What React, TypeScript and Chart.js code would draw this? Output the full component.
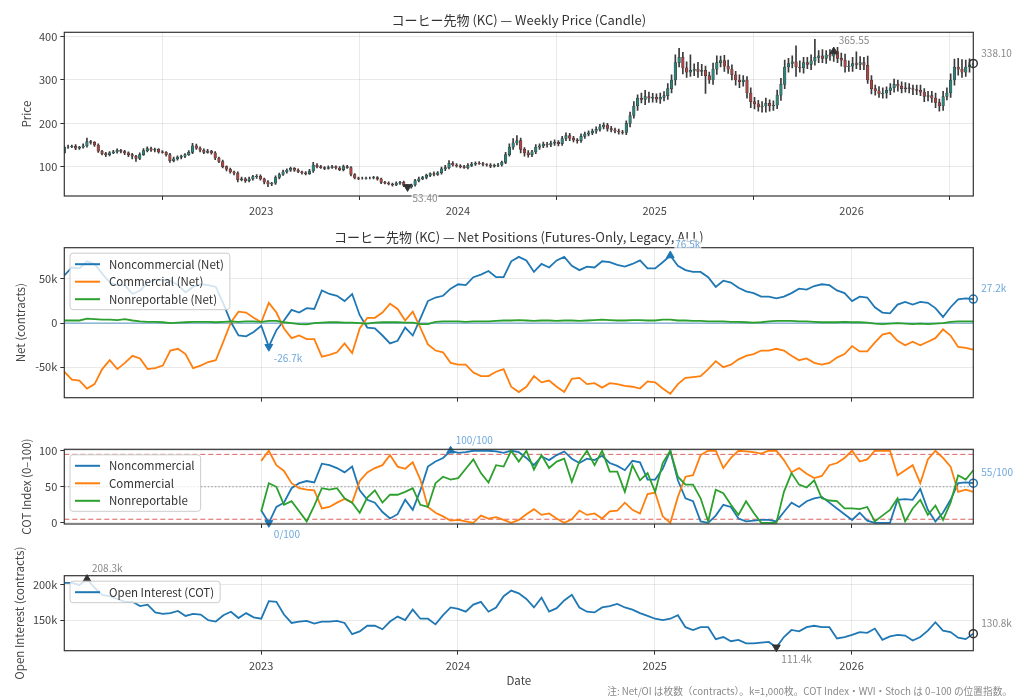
import React, { useEffect, useRef } from "react";
import { Chart, registerables } from "chart.js";

Chart.register(...registerables);

const FONT = '"Noto Sans CJK JP", "Noto Sans", "DejaVu Sans", sans-serif';
const W = 1024;
const H = 699;
const PLOT_LEFT = 64.3;
const PLOT_RIGHT = 973.3;

const C_NC = "#1f77b4";
const C_C = "#ff7f0e";
const C_NR = "#2ca02c";
const C_UP = "#2f8378";
const C_DOWN = "#a84646";
const AXIS = "#333333";
const GRID = "rgba(176,176,176,0.35)";
const TICK = "#444444";
const ANN_GRAY = "#888888";
const ANN_BLUE = "#6fa8dc";

const START_YEAR = 2022.0;
const WEEK = 7 / 365.25;
const YEAR_TICKS = [2023, 2024, 2025, 2026];

// ---- Weekly price (candles) ----
const priceFirstOpen = 132;
const priceClose = [
  145, 146, 147, 143, 145, 148, 158, 156, 150, 136,
  130, 128, 132, 134, 138, 135, 132, 128, 124, 119,
  128, 137, 142, 138, 140, 134, 133, 128, 114, 118,
  122, 124, 128, 133, 148, 143, 138, 133, 136, 132,
  120, 112, 100, 94, 88, 85, 70, 72, 68, 72,
  77, 78, 72, 65, 60, 62, 75, 82, 88, 92,
  96, 92, 88, 86, 84, 90, 104, 100, 98, 96,
  98, 100, 97, 93, 100, 98, 82, 74, 73, 73,
  74, 74, 75, 72, 64, 62, 60, 58, 62, 64,
  57, 53.4, 58, 68, 72, 75, 80, 84, 82, 86,
  95, 98, 108, 104, 102, 100, 98, 103, 106, 108,
  107, 105, 104, 101, 103, 104, 110, 128, 145, 155,
  160, 140, 132, 128, 134, 145, 148, 152, 150, 154,
  156, 153, 165, 172, 166, 162, 160, 170, 175, 178,
  182, 186, 192, 196, 188, 185, 182, 180, 179, 200,
  218, 240, 258, 255, 262, 258, 260, 256, 260, 264,
  280, 300, 340, 352, 328, 318, 322, 325, 320, 322,
  310, 300, 325, 340, 345, 332, 325, 312, 300, 296,
  300, 270, 250, 245, 238, 240, 246, 240, 242, 265,
  290, 330, 338, 342, 330, 328, 340, 336, 344, 352,
  356, 350, 358, 355, 365.55, 350, 346, 330, 332, 338,
  336, 340, 334, 300, 280, 275, 268, 270, 276, 282,
  290, 286, 280, 282, 280, 278, 276, 272, 262, 264,
  258, 248, 240, 262, 270, 300, 330, 325, 318, 330,
  335, 338.1,
];
const priceWickUp = [
  3, 4, 3, 4, 2, 5, 8, 3, 2, 3,
  2, 3, 3, 4, 3, 2, 3, 2, 3, 2,
  4, 5, 4, 3, 3, 2, 3, 2, 3, 4,
  3, 3, 2, 4, 6, 4, 3, 3, 4, 2,
  3, 2, 3, 2, 3, 2, 3, 4, 3, 4,
  3, 4, 3, 2, 3, 2, 4, 3, 4, 3,
  3, 2, 3, 2, 3, 4, 6, 3, 3, 2,
  4, 3, 2, 3, 4, 3, 2, 2, 2, 3,
  2, 2, 3, 2, 2, 2, 3, 2, 3, 2,
  3, 2, 2, 3, 4, 3, 3, 2, 4, 3,
  4, 5, 6, 4, 3, 3, 3, 4, 4, 3,
  4, 3, 2, 3, 3, 4, 3, 5, 8, 10,
  12, 6, 4, 5, 4, 6, 5, 5, 4, 5,
  6, 4, 5, 6, 5, 4, 3, 6, 5, 5,
  5, 6, 6, 5, 4, 5, 4, 5, 4, 6,
  8, 10, 8, 12, 14, 10, 9, 8, 10, 9,
  12, 12, 18, 21, 12, 14, 36, 12, 16, 14,
  10, 8, 14, 16, 10, 12, 14, 10, 8, 12,
  10, 8, 12, 10, 8, 10, 12, 8, 10, 12,
  14, 16, 12, 14, 37, 14, 12, 12, 14, 42,
  12, 14, 10, 12, 0, 10, 12, 14, 12, 14,
  27, 14, 12, 21, 10, 8, 10, 12, 8, 10,
  12, 10, 10, 12, 10, 8, 10, 12, 8, 10,
  10, 12, 8, 12, 12, 14, 18, 20, 22, 16,
  14, 8,
];
const priceWickDown = [
  2, 3, 2, 4, 3, 2, 3, 4, 3, 3,
  3, 5, 3, 2, 3, 3, 4, 5, 6, 7,
  3, 2, 3, 3, 4, 3, 2, 4, 4, 3,
  3, 4, 3, 2, 3, 3, 4, 3, 2, 3,
  4, 3, 3, 4, 3, 4, 5, 3, 4, 3,
  3, 4, 3, 5, 6, 4, 3, 3, 2, 3,
  3, 3, 2, 3, 3, 2, 3, 3, 2, 3,
  2, 2, 3, 2, 3, 2, 3, 2, 3, 2,
  2, 2, 2, 3, 3, 2, 2, 3, 2, 3,
  3, 2, 3, 3, 3, 2, 3, 3, 3, 2,
  3, 4, 3, 3, 3, 3, 2, 3, 3, 3,
  2, 3, 3, 3, 2, 3, 3, 3, 4, 5,
  5, 8, 8, 6, 5, 4, 5, 4, 5, 4,
  5, 5, 4, 5, 6, 5, 6, 4, 5, 4,
  4, 5, 4, 5, 6, 5, 4, 5, 4, 5,
  8, 6, 10, 8, 12, 10, 9, 8, 10, 8,
  9, 10, 12, 10, 14, 12, 10, 12, 14, 10,
  41, 8, 10, 12, 10, 12, 10, 12, 12, 14,
  10, 12, 14, 12, 10, 12, 14, 12, 10, 8,
  12, 10, 12, 10, 22, 10, 12, 10, 12, 10,
  12, 10, 12, 10, 12, 10, 14, 12, 10, 12,
  10, 12, 10, 8, 12, 10, 8, 10, 12, 10,
  10, 12, 10, 8, 10, 12, 10, 8, 12, 10,
  10, 12, 12, 10, 8, 10, 12, 14, 12, 10,
  12, 8,
];

// ---- Net positions (thousand contracts, biweekly) ----
const netNoncommercial = [
  54, 63, 62, 70, 67, 56, 46, 43, 43, 33,
  37, 46, 49, 49, 48, 43, 35, 41, 44, 43,
  41, 22, 1, -14, -15, -10, -3, -26.7, -8, 3,
  15, 12, 17, 16, 37, 33, 31, 25, 33, 9,
  -5, -6, -14, -23, -20, -5, -14, 5, 25, 29,
  31, 39, 44, 43, 52, 55, 59, 52, 52, 70,
  75, 71, 58, 67, 63, 71, 75, 65, 60, 64,
  63, 70, 69, 66, 64, 67, 71, 62, 62, 69,
  76.5, 65, 60, 58, 58, 52, 41, 48, 46, 40,
  36, 34, 30, 30, 28, 30, 34, 39, 38, 42,
  44, 43, 37, 34, 25, 30, 29, 18, 12, 11,
  21, 24, 21, 24, 23, 17, 7, 18, 27, 28,
  27.2,
];
const netCommercial = [
  -55, -64, -65, -74, -69, -52, -42, -52, -45, -37,
  -40, -52, -51, -48, -31, -29, -35, -51, -48, -44,
  -42, -21, 1, 13, 12, 6, 1, 23, 12, -6,
  -17, -14, -18, -18, -38, -36, -33, -23, -34, -6,
  6, 6, 12, 22, 16, 3, 13, -5, -24, -31,
  -33, -45, -47, -47, -56, -60, -60, -55, -52, -72,
  -78, -72, -60, -67, -65, -72, -78, -63, -62, -69,
  -68, -73, -68, -69, -71, -72, -74, -66, -67, -74,
  -80, -69, -62, -61, -60, -52, -43, -50, -47, -41,
  -37, -35, -31, -31, -29, -31, -37, -42, -40, -45,
  -47, -45, -39, -35, -26, -32, -32, -22, -13, -11,
  -20, -25, -21, -25, -21, -17, -7, -14, -27, -28,
  -30,
];
const netNonreportable = [
  3, 3, 3, 5, 4.5, 4, 4, 3.5, 4.5, 3,
  2, 1.5, 1.5, 1, 0, 0.5, 1, 1.5, 1.5, 1.5,
  1, 1.5, 2, 1.5, 2, 2, 1.5, 2.5, 2.5, 1,
  0, -1, -1.5, 0, 0.5, 1, 1, 0.5, 0.5, 0,
  -0.5, 0.5, 1, 1, 1, 0.5, 0.5, -1, -1, 1.5,
  2, 2, 2, 1.5, 2, 2, 2, 2.5, 3, 3,
  3.5, 3, 2.5, 3, 3, 2.5, 3, 3, 2.5, 3,
  3.5, 4, 3.5, 3, 3, 3.5, 3.5, 3, 3, 4,
  4, 3, 3, 2.5, 2.5, 2, 2, 2, 1.5, 1.5,
  1, 0.5, 1, 2, 2.5, 2.5, 2.5, 2, 2, 1.5,
  1, 1, 1, 1.5, 1, 1, 0.5, -0.5, -1, -0.5,
  0, -0.5, -1, -0.5, -1, -0.5, 0, 1.5, 2, 2,
  2,
];

// ---- COT Index (0-100), starts at biweekly step 26 ----
const cotStart = 26;
const cotNoncommercial = [
  17, 0, 22, 28, 48, 55, 58, 56, 82, 80,
  76, 70, 78, 45, 32, 28, 15, 6, 12, 32,
  18, 45, 78, 85, 90, 100, 97, 98, 100, 100,
  100, 99, 97, 100, 98, 90, 80, 92, 87, 94,
  99, 89, 83, 89, 87, 93, 83, 79, 73, 86,
  84, 60, 60, 75, 100, 59, 34, 30, 2, 0,
  10, 25, 22, 6, 2, 3, 4, 4, 2, 15,
  28, 22, 30, 34, 36, 28, 20, 12, 4, 14,
  3, 0, 0, 0, 32, 33, 32, 47, 18, 2,
  14, 32, 55, 56, 55,
];
const cotCommercial = [
  86, 100, 80, 72, 55, 48, 46, 45, 20, 22,
  28, 33, 28, 58, 70, 76, 80, 94, 78, 75,
  84, 60, 22, 14, 9, 3, 4, 2, 0, 10,
  6, 8, 4, 0, 4, 12, 19, 11, 13, 6,
  0, 5, 17, 11, 13, 6, 16, 17, 28, 18,
  13, 40, 42, 9, 0, 36, 64, 66, 94, 100,
  100, 76, 90, 100, 99, 98, 96, 100, 100, 87,
  70, 76, 68, 62, 65, 80, 83, 90, 100, 85,
  88, 100, 100, 100, 66, 73, 80, 55, 88, 100,
  90, 78, 43, 46, 43,
];
const cotNonreportable = [
  16, 55, 50, 25, 30, 16, 2, 24, 48, 46,
  48, 34, 28, 14, 35, 45, 28, 39, 39, 43,
  48, 25, 22, 55, 64, 60, 62, 75, 88, 69,
  56, 80, 78, 100, 85, 100, 74, 94, 76, 85,
  89, 57, 85, 100, 80, 100, 71, 71, 43, 80,
  59, 69, 43, 83, 100, 64, 53, 53, 34, 2,
  46, 41, 25, 11, 30, 14, 0, 0, 0, 43,
  69, 53, 49, 59, 34, 31, 30, 20, 20, 19,
  22, 2, 10, 18, 34, 2, 20, 32, 11, 24,
  4, 28, 66, 60, 73,
];

// ---- Open interest (thousand contracts, biweekly) ----
const openInterest = [
  203, 203, 200, 208.3, 196, 186, 184, 180, 176, 176,
  170, 172, 161, 159, 160, 163, 156, 159, 158, 150,
  148, 157, 162, 153, 160, 154, 152, 177, 176, 158,
  146, 148, 149, 145, 148, 148, 149, 146, 130, 134,
  142, 142, 137, 148, 155, 150, 165, 152, 152, 144,
  157, 168, 166, 162, 172, 176, 162, 168, 184, 192,
  188, 180, 168, 182, 162, 167, 178, 186, 168, 162,
  161, 168, 170, 173, 168, 165, 160, 156, 152, 150,
  152, 157, 140, 136, 140, 140, 123, 126, 120, 122,
  117, 117, 118, 119, 111.4, 126, 136, 134, 140, 142,
  140, 140, 124, 126, 129, 133, 132, 138, 122, 127,
  129, 128, 121, 126, 135, 147, 135, 133, 125, 123,
  130.8,
];

const PRICE_TICKS = [100, 200, 300, 400];
const NET_TICKS = [-50, 0, 50];
const COT_TICKS = [0, 50, 100];
const OI_TICKS = [150, 200];

// ---- derived helpers ----
const weekDate = (i: number) => START_YEAR + i * WEEK;
const X_MIN = weekDate(0);
const X_MAX = weekDate(priceClose.length - 1);
const N_LINE = netNoncommercial.length;
const lineDate = (k: number) => X_MIN + (k * (X_MAX - X_MIN)) / (N_LINE - 1);

const argMax = (a: number[]) => a.reduce((b, v, i) => (v > a[b] ? i : b), 0);
const argMin = (a: number[]) => a.reduce((b, v, i) => (v < a[b] ? i : b), 0);

type Kind = "max" | "min" | "last";
type Ann = { ds: number; text: string; color: string; kind: Kind };
type Decor = {
  title?: string;
  titleY?: number;
  yLabel: string;
  yLabelX: number;
  xLabel?: { text: string; y: number };
  footnote?: { text: string; x: number; y: number };
  legend?: { label: string; color: string }[];
  anns: Ann[];
};

function decorPlugin(d: Decor) {
  return {
    id: "decor",
    afterDatasetsDraw(chart: any) {
      const { ctx, chartArea: a } = chart;
      ctx.save();
      ctx.strokeStyle = AXIS;
      ctx.lineWidth = 1.2;
      ctx.strokeRect(a.left, a.top, a.right - a.left, a.bottom - a.top);
      ctx.restore();
    },
    afterDraw(chart: any) {
      const { ctx, chartArea: a } = chart;
      ctx.save();
      ctx.textBaseline = "middle";
      if (d.title) {
        ctx.font = `13px ${FONT}`;
        ctx.fillStyle = "#333";
        ctx.textAlign = "center";
        ctx.fillText(d.title, (a.left + a.right) / 2, d.titleY);
      }
      ctx.save();
      ctx.translate(d.yLabelX, (a.top + a.bottom) / 2);
      ctx.rotate(-Math.PI / 2);
      ctx.font = `11.5px ${FONT}`;
      ctx.fillStyle = "#444";
      ctx.textAlign = "center";
      ctx.fillText(d.yLabel, 0, 0);
      ctx.restore();
      if (d.xLabel) {
        ctx.font = `11.5px ${FONT}`;
        ctx.fillStyle = "#444";
        ctx.textAlign = "center";
        ctx.fillText(d.xLabel.text, (a.left + a.right) / 2, d.xLabel.y);
      }
      if (d.footnote) {
        ctx.font = `9.7px ${FONT}`;
        ctx.fillStyle = "#888";
        ctx.textAlign = "right";
        ctx.fillText(d.footnote.text, d.footnote.x, d.footnote.y);
      }
      if (d.legend) {
        ctx.font = `11.5px ${FONT}`;
        const tw = Math.max(...d.legend.map((l) => ctx.measureText(l.label).width));
        const bx = a.left + 5.7;
        const by = a.top + 5.5;
        const bw = 39 + tw + 6;
        const bh = d.legend.length * 17.5 + 4;
        ctx.beginPath();
        if ((ctx as any).roundRect) (ctx as any).roundRect(bx, by, bw, bh, 3);
        else ctx.rect(bx, by, bw, bh);
        ctx.fillStyle = "rgba(255,255,255,0.8)";
        ctx.fill();
        ctx.strokeStyle = "#cccccc";
        ctx.lineWidth = 1;
        ctx.stroke();
        d.legend.forEach((l, i) => {
          const y = by + 11 + i * 17.5;
          ctx.beginPath();
          ctx.moveTo(bx + 5, y);
          ctx.lineTo(bx + 30, y);
          ctx.strokeStyle = l.color;
          ctx.lineWidth = 2;
          ctx.stroke();
          ctx.fillStyle = "#333";
          ctx.textAlign = "left";
          ctx.fillText(l.label, bx + 39, y);
        });
      }
      d.anns.forEach((an) => {
        const el = chart.getDatasetMeta(an.ds).data[0];
        if (!el) return;
        const dx = an.kind === "last" ? 8 : 5;
        const dy = an.kind === "max" ? -11 : an.kind === "min" ? 11.5 : -10.5;
        ctx.font = `10px ${FONT}`;
        const w = ctx.measureText(an.text).width;
        const tx = el.x + dx;
        const ty = el.y + dy;
        ctx.fillStyle = "rgba(255,255,255,0.75)";
        ctx.fillRect(tx - 1, ty - 6, w + 2, 12);
        ctx.fillStyle = an.color;
        ctx.textAlign = "left";
        ctx.fillText(an.text, tx, ty);
      });
      ctx.restore();
    },
  };
}

function baseOptions(p: {
  top: number;
  bottom: number;
  xLabels: boolean;
  yMin: number;
  yMax: number;
  yTicks: number[];
  yFmt: (v: number) => string;
}) {
  const xH = p.xLabels ? 22 : 5;
  return {
    responsive: false,
    animation: false,
    events: [],
    layout: { padding: { left: 0, right: W - PLOT_RIGHT, top: p.top, bottom: H - p.bottom - xH } },
    plugins: { legend: { display: false }, tooltip: { enabled: false }, title: { display: false } },
    scales: {
      x: {
        type: "linear",
        min: X_MIN,
        max: X_MAX,
        offset: false,
        afterBuildTicks: (s: any) => {
          s.ticks = YEAR_TICKS.map((value) => ({ value }));
        },
        afterFit: (s: any) => {
          s.height = xH;
        },
        grid: { color: GRID, lineWidth: 0.8, tickColor: AXIS, tickWidth: 1, tickLength: 4, drawTicks: true },
        border: { display: false },
        ticks: {
          display: p.xLabels,
          color: TICK,
          font: { family: FONT, size: 11 },
          padding: 4.5,
          maxRotation: 0,
          autoSkip: false,
          callback: (v: any) => String(v),
        },
      },
      y: {
        type: "linear",
        min: p.yMin,
        max: p.yMax,
        afterBuildTicks: (s: any) => {
          s.ticks = p.yTicks.map((value) => ({ value }));
        },
        afterFit: (s: any) => {
          s.width = PLOT_LEFT;
        },
        grid: { color: GRID, lineWidth: 0.8, tickColor: AXIS, tickWidth: 1, tickLength: 4, drawTicks: true },
        border: { display: false },
        ticks: {
          color: TICK,
          font: { family: FONT, size: 11 },
          padding: 3,
          callback: (v: any) => p.yFmt(Number(v)),
        },
      },
    },
  };
}

const marker = (x: number, y: number, kind: Kind, color: string) => ({
  type: "line",
  data: [{ x, y }],
  showLine: false,
  pointStyle: kind === "last" ? "circle" : "triangle",
  pointRotation: kind === "min" ? 180 : 0,
  pointRadius: kind === "last" ? 4 : 4.5,
  pointBackgroundColor: kind === "last" ? "rgba(255,255,255,0)" : color,
  pointBorderColor: color,
  pointBorderWidth: kind === "last" ? 1.5 : 1,
  order: 0,
  clip: false,
});

const series = (label: string, color: string, pts: { x: number; y: number }[], order: number) => ({
  type: "line",
  label,
  data: pts,
  borderColor: color,
  backgroundColor: color,
  borderWidth: 1.8,
  pointRadius: 0,
  tension: 0,
  order,
});

const hline = (y: number, color: string, dash: number[], width: number) => ({
  type: "line",
  data: [
    { x: X_MIN, y },
    { x: X_MAX, y },
  ],
  borderColor: color,
  borderWidth: width,
  borderDash: dash,
  pointRadius: 0,
  order: 10,
});

const kFmt = (v: number) => (v === 0 ? "0" : `${v}k`);

function pricePanel() {
  const opens = priceClose.map((c, i) => (i === 0 ? priceFirstOpen : priceClose[i - 1]));
  const highs = priceClose.map((c, i) => Math.max(opens[i], c) + priceWickUp[i]);
  const lows = priceClose.map((c, i) => Math.min(opens[i], c) - priceWickDown[i]);
  const iMax = argMax(priceClose);
  const iMin = argMin(priceClose);
  const iLast = priceClose.length - 1;
  const datasets: any[] = [
    {
      type: "bar",
      data: priceClose.map((c, i) => ({ x: weekDate(i), y: [opens[i], c] })),
      backgroundColor: priceClose.map((c, i) => (c >= opens[i] ? C_UP : C_DOWN)),
      borderColor: "#333333",
      borderWidth: 0.5,
      borderSkipped: false,
      barThickness: 2.6,
      grouped: false,
      order: 1,
    },
    {
      type: "bar",
      data: priceClose.map((c, i) => ({ x: weekDate(i), y: [lows[i], highs[i]] })),
      backgroundColor: "#3a3a3a",
      borderWidth: 0,
      barThickness: 1,
      grouped: false,
      order: 2,
    },
    marker(weekDate(iMax), priceClose[iMax], "max", "#333333"),
    marker(weekDate(iMin), priceClose[iMin], "min", "#333333"),
    marker(weekDate(iLast), priceClose[iLast], "last", "#333333"),
  ];
  const decor: Decor = {
    title: "コーヒー先物 (KC) — Weekly Price (Candle)",
    titleY: 20,
    yLabel: "Price",
    yLabelX: 27,
    anns: [
      { ds: 2, text: priceClose[iMax].toFixed(2), color: ANN_GRAY, kind: "max" },
      { ds: 3, text: priceClose[iMin].toFixed(2), color: ANN_GRAY, kind: "min" },
      { ds: 4, text: priceClose[iLast].toFixed(2), color: ANN_GRAY, kind: "last" },
    ],
  };
  return {
    type: "bar",
    data: { datasets },
    options: baseOptions({
      top: 32.3,
      bottom: 196,
      xLabels: true,
      yMin: 32.4,
      yMax: 410,
      yTicks: PRICE_TICKS,
      yFmt: (v) => String(v),
    }),
    plugins: [decorPlugin(decor)],
  };
}

function netPanel() {
  const pts = (arr: number[]) => arr.map((y, k) => ({ x: lineDate(k), y }));
  const iMax = argMax(netNoncommercial);
  const iMin = argMin(netNoncommercial);
  const iLast = N_LINE - 1;
  const datasets: any[] = [
    hline(0, "rgba(31,119,180,0.6)", [], 1.3),
    series("Noncommercial (Net)", C_NC, pts(netNoncommercial), 3),
    series("Commercial (Net)", C_C, pts(netCommercial), 2),
    series("Nonreportable (Net)", C_NR, pts(netNonreportable), 1),
    marker(lineDate(iMax), netNoncommercial[iMax], "max", C_NC),
    marker(lineDate(iMin), netNoncommercial[iMin], "min", C_NC),
    marker(lineDate(iLast), netNoncommercial[iLast], "last", C_NC),
  ];
  const decor: Decor = {
    title: "コーヒー先物 (KC) — Net Positions (Futures-Only, Legacy, ALL)",
    titleY: 237,
    yLabel: "Net (contracts)",
    yLabelX: 21,
    legend: [
      { label: "Noncommercial (Net)", color: C_NC },
      { label: "Commercial (Net)", color: C_C },
      { label: "Nonreportable (Net)", color: C_NR },
    ],
    anns: [
      { ds: 4, text: `${netNoncommercial[iMax].toFixed(1)}k`, color: ANN_BLUE, kind: "max" },
      { ds: 5, text: `${netNoncommercial[iMin].toFixed(1)}k`, color: ANN_BLUE, kind: "min" },
      { ds: 6, text: `${netNoncommercial[iLast].toFixed(1)}k`, color: ANN_BLUE, kind: "last" },
    ],
  };
  return {
    type: "line",
    data: { datasets },
    options: baseOptions({
      top: 247.7,
      bottom: 397.7,
      xLabels: false,
      yMin: -84.4,
      yMax: 85.4,
      yTicks: NET_TICKS,
      yFmt: kFmt,
    }),
    plugins: [decorPlugin(decor)],
  };
}

function cotPanel() {
  const pts = (arr: number[]) => arr.map((y, j) => ({ x: lineDate(cotStart + j), y }));
  const iMax = argMax(cotNoncommercial);
  const iMin = argMin(cotNoncommercial);
  const iLast = cotNoncommercial.length - 1;
  const datasets: any[] = [
    hline(95, "rgba(214,39,40,0.75)", [5, 3], 1),
    hline(5, "rgba(214,39,40,0.75)", [5, 3], 1),
    hline(50, "rgba(130,130,130,0.8)", [1.5, 2], 1),
    series("Noncommercial", C_NC, pts(cotNoncommercial), 3),
    series("Commercial", C_C, pts(cotCommercial), 2),
    series("Nonreportable", C_NR, pts(cotNonreportable), 1),
    marker(lineDate(cotStart + iMax), cotNoncommercial[iMax], "max", C_NC),
    marker(lineDate(cotStart + iMin), cotNoncommercial[iMin], "min", C_NC),
    marker(lineDate(cotStart + iLast), cotNoncommercial[iLast], "last", C_NC),
  ];
  const decor: Decor = {
    yLabel: "COT Index (0–100)",
    yLabelX: 27,
    legend: [
      { label: "Noncommercial", color: C_NC },
      { label: "Commercial", color: C_C },
      { label: "Nonreportable", color: C_NR },
    ],
    anns: [
      { ds: 6, text: `${Math.round(cotNoncommercial[iMax])}/100`, color: ANN_BLUE, kind: "max" },
      { ds: 7, text: `${Math.round(cotNoncommercial[iMin])}/100`, color: ANN_BLUE, kind: "min" },
      { ds: 8, text: `${Math.round(cotNoncommercial[iLast])}/100`, color: ANN_BLUE, kind: "last" },
    ],
  };
  return {
    type: "line",
    data: { datasets },
    options: baseOptions({
      top: 449.3,
      bottom: 524,
      xLabels: false,
      yMin: -1.6,
      yMax: 102,
      yTicks: COT_TICKS,
      yFmt: (v) => String(v),
    }),
    plugins: [decorPlugin(decor)],
  };
}

function oiPanel() {
  const iMax = argMax(openInterest);
  const iMin = argMin(openInterest);
  const iLast = N_LINE - 1;
  const datasets: any[] = [
    series("Open Interest (COT)", C_NC, openInterest.map((y, k) => ({ x: lineDate(k), y })), 1),
    marker(lineDate(iMax), openInterest[iMax], "max", "#333333"),
    marker(lineDate(iMin), openInterest[iMin], "min", "#333333"),
    marker(lineDate(iLast), openInterest[iLast], "last", "#333333"),
  ];
  const decor: Decor = {
    yLabel: "Open Interest (contracts)",
    yLabelX: 20,
    xLabel: { text: "Date", y: 681 },
    footnote: {
      text: "注: Net/OI は枚数（contracts）。k=1,000枚。COT Index・WVI・Stoch は 0–100 の位置指数。",
      x: 1012,
      y: 691,
    },
    legend: [{ label: "Open Interest (COT)", color: C_NC }],
    anns: [
      { ds: 1, text: `${openInterest[iMax].toFixed(1)}k`, color: ANN_GRAY, kind: "max" },
      { ds: 2, text: `${openInterest[iMin].toFixed(1)}k`, color: ANN_GRAY, kind: "min" },
      { ds: 3, text: `${openInterest[iLast].toFixed(1)}k`, color: ANN_GRAY, kind: "last" },
    ],
  };
  return {
    type: "line",
    data: { datasets },
    options: baseOptions({
      top: 575.7,
      bottom: 650.7,
      xLabels: true,
      yMin: 106.55,
      yMax: 213.15,
      yTicks: OI_TICKS,
      yFmt: kFmt,
    }),
    plugins: [decorPlugin(decor)],
  };
}

function ChartCanvas({ make }: { make: () => any }) {
  const ref = useRef<HTMLCanvasElement>(null);
  useEffect(() => {
    if (!ref.current) return;
    const chart = new Chart(ref.current, make());
    return () => chart.destroy();
  }, [make]);
  return (
    <canvas
      ref={ref}
      width={W}
      height={H}
      style={{ position: "absolute", left: 0, top: 0, width: W, height: H }}
    />
  );
}

export default function App() {
  return (
    <div
      style={{
        position: "fixed",
        left: 0,
        top: 0,
        width: W,
        height: H,
        background: "#ffffff",
        overflow: "hidden",
      }}
    >
      <ChartCanvas make={pricePanel} />
      <ChartCanvas make={netPanel} />
      <ChartCanvas make={cotPanel} />
      <ChartCanvas make={oiPanel} />
    </div>
  );
}
